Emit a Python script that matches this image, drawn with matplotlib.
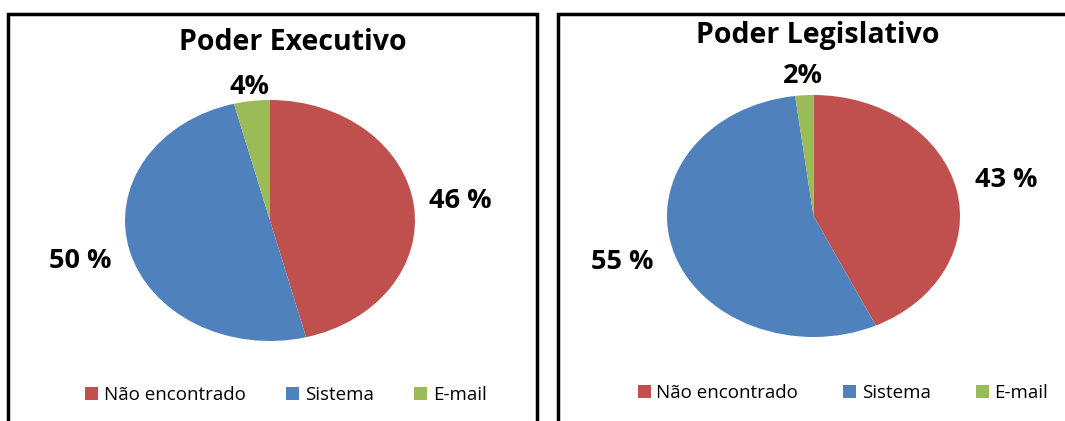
import numpy as np
import matplotlib.pyplot as plt
from matplotlib.patches import Rectangle

plt.rcParams['font.family'] = ['Open Sans', 'DejaVu Sans']

# data
categories = ['Não encontrado', 'Sistema', 'E-mail']
colors = ['#C0504D', '#4F81BD', '#9BBB59']

exec_title = 'Poder Executivo'
exec_values = [46, 50, 4]
exec_labels = ['46 %', '50 %', '4%']

leg_title = 'Poder Legislativo'
leg_values = [43, 55, 2]
leg_labels = ['43 %', '55 %', '2%']

W, H = 1065, 421
fig = plt.figure(figsize=(W / 100, H / 100), dpi=100)


def px(x0, y0, w, h):
    # pixel box (top-left origin) -> figure fraction
    return [x0 / W, (H - y0 - h) / H, w / W, h / H]


def draw_panel(box, pie_box, title, title_xy, values, labels, label_r, legend_xy, colsp):
    # outer frame
    fig.patches.append(Rectangle((box[0], box[1]), box[2], box[3],
                                 transform=fig.transFigure, fill=False,
                                 edgecolor='black', linewidth=2.5))
    fig.text(title_xy[0] / W, 1 - title_xy[1] / H, title, ha='center', va='center',
             fontsize=20.5, fontweight='bold')

    ax = fig.add_axes(px(*pie_box))
    wedges, _ = ax.pie(values, colors=colors, startangle=90, counterclock=False)
    ax.set_aspect('auto')
    ax.set_xlim(-1, 1)
    ax.set_ylim(-1, 1)

    for w, lab, r in zip(wedges, labels, label_r):
        mid = np.deg2rad((w.theta1 + w.theta2) / 2)
        ax.text(r * np.cos(mid), r * np.sin(mid), lab, ha='center', va='center',
                fontsize=19.5, fontweight='bold')

    fig.legend(wedges, categories, loc='center',
               bbox_to_anchor=(legend_xy[0] / W, 1 - legend_xy[1] / H),
               ncol=3, frameon=False, fontsize=13.5,
               handlelength=0.7, handleheight=0.7, handletextpad=0.3,
               columnspacing=colsp)


draw_panel(px(8, 14, 529, 420), (125, 100, 290, 241), exec_title, (293, 43),
           exec_values, exec_labels, [1.32, 1.35, 1.12], (286, 395), 2.15)
draw_panel(px(558, 14, 520, 420), (667, 95, 293, 242), leg_title, (818, 35),
           leg_values, leg_labels, [1.35, 1.36, 1.16], (843, 393), 2.4)

fig.savefig('out.png', dpi=100)
